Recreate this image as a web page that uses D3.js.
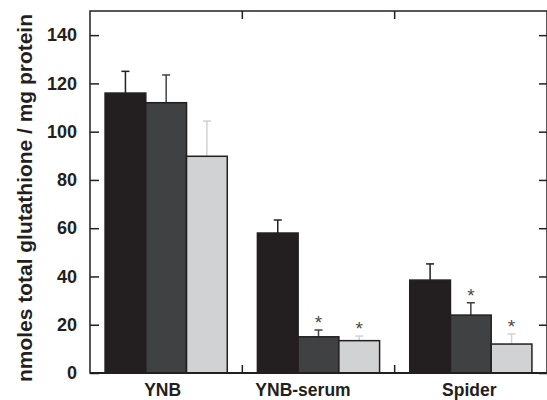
<!DOCTYPE html>
<html><head><meta charset="utf-8">
<script src="https://cdn.jsdelivr.net/npm/d3@7"></script>
<style>body{margin:0;background:#fff}svg{display:block}</style>
</head><body>
<svg id="c" width="547" height="400"></svg>
<script>
const categories = ["YNB", "YNB-serum", "Spider"];
const seriesNames = ["s1", "s2", "s3"];
const means = [[116, 112, 89.8], [58, 15, 13.4], [38.5, 24, 12]];
const errors = [[9, 11.5, 14.6], [5.4, 2.8, 1.9], [6.7, 5.1, 4.2]];
const significant = [[false, false, false], [false, true, true], [false, true, true]];
const yTicks = [0, 20, 40, 60, 80, 100, 120, 140];
const colors = ["#231f20", "#3f4143", "#d1d2d4"];
const yTitle = "nmoles total glutathione / mg protein";
const labelNudge = [-3.5, -15.5, -1.5];

const svg = d3.select("#c");
const L = 90, R = 547, T = 11, B = 373;
const x = d3.scaleBand().domain(categories).range([L, R]).padding(0);
const xs = d3.scaleBand().domain(seriesNames).range([0, x.bandwidth()]).paddingInner(0).paddingOuter(0.37);
const y = d3.scaleLinear().domain([0, 150]).range([B, T]);
const font = "'Liberation Sans', Arial, Helvetica, sans-serif";

// bars
const g = svg.append("g");
categories.forEach((c, i) => {
  seriesNames.forEach((s, j) => {
    const bx = x(c) + xs(s), bw = xs.bandwidth();
    const v = means[i][j], e = errors[i][j];
    const ex = bx + bw / 2;
    g.append("line").attr("x1", ex).attr("x2", ex).attr("y1", y(v)).attr("y2", y(v + e))
      .attr("stroke", colors[j]).attr("stroke-width", 1.5);
    g.append("line").attr("x1", ex - 4).attr("x2", ex + 4).attr("y1", y(v + e)).attr("y2", y(v + e))
      .attr("stroke", colors[j]).attr("stroke-width", 1.5);
    g.append("rect").attr("x", bx).attr("y", y(v)).attr("width", bw).attr("height", y(0) - y(v))
      .attr("fill", colors[j]).attr("stroke", "#231f20").attr("stroke-width", 1.5);
    if (significant[i][j]) {
      g.append("text").attr("x", ex).attr("y", y(v + e) - 1).attr("text-anchor", "middle")
        .attr("font-family", font).attr("font-size", 19).attr("fill", "#4a4a4a").text("*");
    }
  });
});

// frame
svg.append("rect").attr("x", L).attr("y", T).attr("width", R - L).attr("height", B - T)
  .attr("fill", "none").attr("stroke", "#231f20").attr("stroke-width", 1.5);
svg.append("line").attr("x1", L).attr("x2", R).attr("y1", B).attr("y2", B).attr("stroke", "#231f20").attr("stroke-width", 2);

// y axis
const ya = svg.append("g").attr("transform", `translate(${L},0)`)
  .call(d3.axisLeft(y).tickValues(yTicks).tickSizeInner(-9).tickSizeOuter(0).tickPadding(13));
ya.select(".domain").remove();
ya.selectAll(".tick line").attr("stroke", "#231f20").attr("stroke-width", 1.5);
ya.selectAll("text").attr("font-family", font).attr("font-size", 18).attr("font-weight", "bold").attr("fill", "#231f20");

const yr = svg.append("g").attr("transform", `translate(${R},0)`)
  .call(d3.axisRight(y).tickValues(yTicks).tickSizeInner(-8).tickSizeOuter(0).tickFormat(""));
yr.select(".domain").remove();
yr.selectAll(".tick line").attr("stroke", "#231f20").attr("stroke-width", 1.5);

// x boundary ticks
categories.slice(1).map(c => x(c)).forEach(bx => {
  svg.append("line").attr("x1", bx).attr("x2", bx).attr("y1", B).attr("y2", B - 8).attr("stroke", "#231f20").attr("stroke-width", 1.5);
  svg.append("line").attr("x1", bx).attr("x2", bx).attr("y1", T).attr("y2", T + 8).attr("stroke", "#231f20").attr("stroke-width", 1.5);
});

// x labels
const xa = svg.append("g").attr("transform", `translate(0,${B})`)
  .call(d3.axisBottom(x).tickSize(0));
xa.select(".domain").remove();
xa.selectAll("text").attr("font-family", font).attr("font-size", 17.5).attr("font-weight", "bold").attr("fill", "#231f20")
  .attr("y", 23).attr("dy", 0)
  .attr("dx", (d, i) => labelNudge[i]);

// y title
svg.append("text").attr("transform", `translate(32,198) rotate(-90)`)
  .attr("text-anchor", "middle").attr("font-family", font).attr("font-size", 20).attr("font-weight", "bold")
  .attr("textLength", 368).attr("lengthAdjust", "spacingAndGlyphs")
  .attr("fill", "#231f20").text(yTitle);
</script>
</body></html>
